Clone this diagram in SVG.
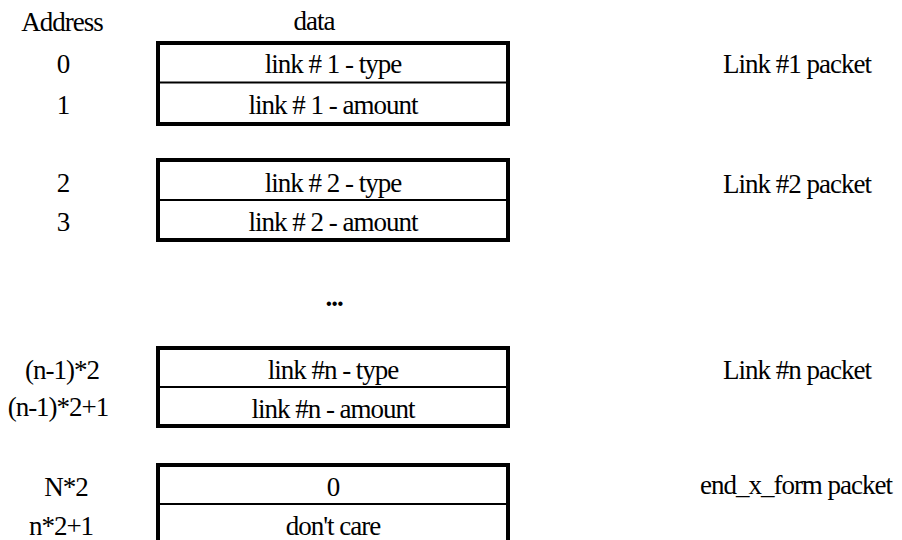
<svg xmlns="http://www.w3.org/2000/svg" width="902" height="540" viewBox="0 0 902 540">
<style>
.t text{font-size:27px;letter-spacing:-1px;fill:#000;text-anchor:middle}
.box{fill:none;stroke:#000;stroke-width:4}
.mid{stroke:#000;stroke-width:2}
</style>
<rect width="902" height="540" fill="#fff"/>
<g class="t" font-family="Liberation Serif, DejaVu Serif, serif">
<g id="headers">
<text x="62" y="31">Address</text>
<text x="314" y="30">data</text>
</g>
<g id="packet1">
<rect class="box" x="158" y="43" width="350" height="81"/>
<line class="mid" x1="158" y1="82.5" x2="508" y2="82.5"/>
<text x="333" y="73">link # 1 - type</text>
<text x="333" y="114">link # 1 - amount</text>
<text x="63" y="73">0</text>
<text x="63" y="114">1</text>
<text x="797" y="73">Link #1 packet</text>
</g>
<g id="packet2">
<rect class="box" x="158" y="160" width="350" height="80"/>
<line class="mid" x1="158" y1="200" x2="508" y2="200"/>
<text x="333" y="192">link # 2 - type</text>
<text x="333" y="231">link # 2 - amount</text>
<text x="63" y="192">2</text>
<text x="63" y="231">3</text>
<text x="797" y="193">Link #2 packet</text>
</g>
<g id="ellipsis">
<text x="334" y="306" font-weight="bold" font-size="22">...</text>
</g>
<g id="packetn">
<rect class="box" x="158" y="348" width="350" height="78"/>
<line class="mid" x1="158" y1="387" x2="508" y2="387"/>
<text x="333" y="379">link #n - type</text>
<text x="333" y="418">link #n - amount</text>
<text x="62" y="379">(n-1)*2</text>
<text x="58" y="416">(n-1)*2+1</text>
<text x="797" y="379">Link #n packet</text>
</g>
<g id="packetend">
<rect class="box" x="158" y="465" width="350" height="80"/>
<line class="mid" x1="158" y1="504" x2="508" y2="504"/>
<text x="333" y="496">0</text>
<text x="333" y="535">don't care</text>
<text x="66" y="496">N*2</text>
<text x="61" y="535">n*2+1</text>
<text x="796" y="494">end_x_form packet</text>
</g>
</g>
<g id="connectors"/>
</svg>
